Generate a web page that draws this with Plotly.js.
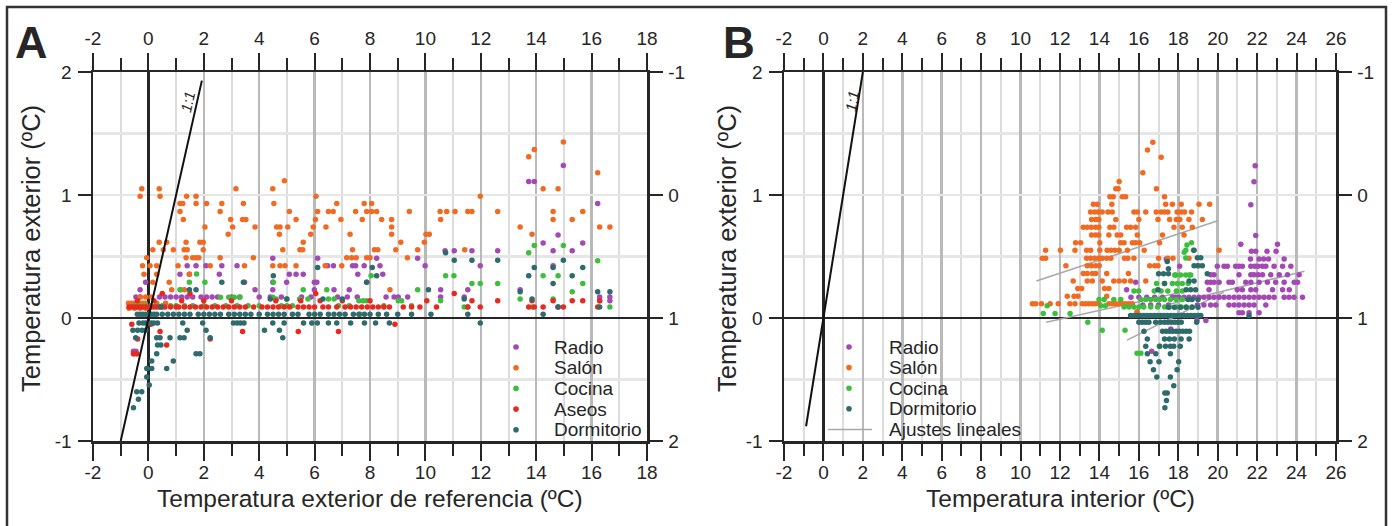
<!DOCTYPE html>
<html><head><meta charset="utf-8">
<script src="https://cdn.plot.ly/plotly-3.0.1.min.js"></script>
<style>html,body{margin:0;padding:0;background:#fff}</style>
</head><body><div id="chart" style="width:1394px;height:526px"></div>
<script>
// ---------- DATA ----------
const legendNamesA = ['Radio', 'Salón', 'Cocina', 'Aseos', 'Dormitorio'];
const legendNamesB = ['Radio', 'Salón', 'Cocina', 'Dormitorio'];
const fitLabel = 'Ajustes lineales';
const panelLabels = ['A', 'B'];
const xTitleA = 'Temperatura exterior de referencia (ºC)';
const xTitleB = 'Temperatura interior (ºC)';
const yTitle = 'Temperatura exterior (ºC)';
const oneToOneLabel = '1:1';
const xTicksA = [-2, 0, 2, 4, 6, 8, 10, 12, 14, 16, 18];
const xTicksB = [-2, 0, 2, 4, 6, 8, 10, 12, 14, 16, 18, 20, 22, 24, 26];
const yTicks = [-1, 0, 1, 2];
const rightTicks = [-1, 0, 1, 2];   // right axis runs top (-1) to bottom (2)

// rows: [y, [x values]]
const A_radio = [
  [1.24, [14.98]],
  [1.11, [13.73, 13.93]],
  [0.93, [16.22]],
  [0.675, [14.79]],
  [0.61, [14.25, 15.68]],
  [0.547, [10.71, 11.04, 11.68, 12.61, 14.61, 15.3]],
  [0.485, [4.49, 6.11, 8.24, 9.72]],
  [0.425, [1.4, 1.72, 2.08, 2.65, 3.2, 6.47, 6.68, 7.37, 7.48, 7.79, 8.36, 9.99, 11.98, 14.61]],
  [0.355, [1.14, 1.48, 2.56, 5.09, 5.33, 5.59, 7.56, 8.46]],
  [0.29, [-0.1, 3.47, 4.49, 4.99, 5.99, 6.08, 7.88]],
  [0.23, [-0.3, 3.85, 4.49, 5.99, 6.7, 7.25, 10.55, 11.53, 13.42]],
  [0.17, [-0.45, -0.3, 0.4, 0.6, 0.8, 1.0, 1.2, 1.4, 1.6, 1.9, 2.1, 2.3, 2.5, 3.0, 3.3, 4.0, 4.4, 4.8, 5.53, 5.87, 6.83, 7.18, 7.54, 8.58, 8.87, 9.02, 9.36, 10.55, 11.4, 16.29, 16.66]],
  [0.14, [16.29, 16.66]],
  [-0.27, [-0.54, -0.45]]
];
const A_salon = [
  [1.43, [14.98]],
  [1.37, [13.93]],
  [1.31, [13.73]],
  [1.18, [16.22]],
  [1.115, [4.91]],
  [1.05, [-0.24, 0.39, 3.16, 4.49, 14.25, 14.79]],
  [0.99, [-0.3, 0.42, 1.38, 1.72, 6.05, 11.98]],
  [0.93, [1.14, 1.24, 1.72, 2.1, 2.65, 3.43, 4.53, 6.8, 7.79, 8.06]],
  [0.865, [1.14, 2.59, 5.09, 6.11, 6.5, 6.67, 7.48, 7.88, 8.06, 8.24, 9.42, 10.53, 10.77, 11.07, 11.53, 11.68, 12.61, 14.61, 15.68]],
  [0.80, [1.26, 2.97, 3.4, 3.52, 5.33, 6.03, 6.95, 7.72, 8.42, 8.78, 10.55, 14.61, 15.3]],
  [0.74, [2.04, 3.04, 3.85, 4.63, 4.75, 5.03, 5.95, 6.41, 8.78, 13.42, 16.29, 16.66]],
  [0.68, [2.88, 4.73, 5.86, 7.28, 8.78, 10.02, 10.14, 13.85]],
  [0.615, [0.39, 0.66, 1.36, 1.86, 1.98, 5.59, 9.11, 9.96]],
  [0.555, [0.16, 0.54, 0.9, 1.29, 1.4, 1.98, 4.85, 5.47, 5.57, 7.37, 8.16, 8.28, 8.93, 9.72, 11.42]],
  [0.49, [-0.06, 1.36, 1.6, 1.72, 1.82, 2.59, 3.79, 7.16, 7.34, 7.5, 7.88, 8.0, 9.35]],
  [0.425, [-0.21, 0.06, 0.3, 1.07, 2.23, 3.47, 4.49, 4.75, 4.93, 5.33, 6.38, 6.98]],
  [0.355, [-0.16, 0.3, 1.48]],
  [0.29, [0.16, 0.75]],
  [0.23, [0.84, 1.17, 1.3, 8.72]],
  [0.17, [-0.3, -0.1, 0.1]],
  [0.12, [-0.72, -0.62, -0.52, -0.42, -0.32, -0.22, -0.12, 0.3, 0.62]],
  [0.08, [-0.7, -0.5, -0.3, -0.1]],
  [-0.29, [-0.52, -0.42]]
];
const A_cocina = [
  [0.59, [13.93, 14.98]],
  [0.53, [13.73]],
  [0.466, [16.22]],
  [0.357, [1.74]],
  [0.344, [8.04, 10.73, 11.03, 14.25, 14.79]],
  [0.29, [1.48, 2.04, 4.51]],
  [0.28, [11.68, 11.98, 12.61, 15.68]],
  [0.23, [1.14, 5.59, 6.44, 9.72]],
  [0.214, [15.3]],
  [0.168, [2.6, 2.9, 3.1, 3.3, 4.49]],
  [0.154, [4.61, 4.99, 5.46, 5.76, 6.5, 6.7, 13.42, 14.61]],
  [0.14, [7.6, 7.75, 7.88, 9.02, 9.14, 10.55]],
  [0.1, [-0.5, -0.3, -0.1, 0.1, 0.3, 0.5, 0.8, 1.0, 1.3, 1.6, 2.0, 2.4, 2.8, 3.2, 3.6, 4.0, 4.8, 5.0, 5.2, 6.86, 7.25, 8.5, 9.5]],
  [0.09, [11.4, 11.53, 13.85, 16.66]],
  [0.03, [7.64]]
];
const A_aseos = [
  [0.2, [0.5, 1.5, 6.04, 11.04]],
  [0.14, [-0.4, 0.2, 1.2, 2.0, 3.0, 4.6, 5.5, 6.2, 7.0, 8.0, 10.05, 11.68, 12.61, 13.85, 14.61, 15.3, 15.68, 16.29]],
  [0.09, [-0.7, -0.6, -0.5, -0.4, -0.3, -0.2, -0.1, 0.0, 0.1, 0.2, 0.3, 0.4, 0.5, 0.6, 0.8, 1.0, 1.1, 1.3, 1.5, 1.7, 1.9, 2.1, 2.3, 2.5, 2.7, 2.9, 3.1, 3.3, 3.5, 3.8, 4.1, 4.3, 4.5, 4.7, 4.9, 5.1, 5.4, 5.6, 5.8, 6.0, 6.3, 6.5, 6.8, 7.1, 7.3, 7.5, 7.7, 7.9, 8.1, 8.3, 8.5, 8.7, 9.2, 9.5, 9.8, 10.4, 11.53, 11.98, 13.73, 13.93, 14.25, 14.79, 14.98, 16.22]],
  [-0.05, [-0.6, 0.1, 8.9]],
  [-0.11, [0.42, 3.4, 5.41, 6.86]],
  [-0.17, [-0.39, 2.23]],
  [-0.22, [0.66]],
  [-0.29, [-0.54, -0.42]]
];
const A_dormitorio = [
  [0.53, [10.73]],
  [0.47, [11.04, 11.68, 12.61, 14.98]],
  [0.41, [6.11, 8.08, 13.93, 14.61, 15.68]],
  [0.344, [4.51, 8.24, 13.73, 15.3]],
  [0.29, [2.65, 3.43, 7.88]],
  [0.28, [14.61]],
  [0.23, [1.48, 1.72, 10.11]],
  [0.214, [13.42, 16.22, 16.66]],
  [0.154, [4.4, 5.0, 6.3, 7.0, 11.4, 13.85]],
  [0.09, [0.45, 14.79, 16.29]],
  [0.03, [-0.4, -0.3, -0.2, -0.1, 0, 0.1, 0.2, 0.3, 0.5, 0.7, 0.9, 1.1, 1.3, 1.5, 1.8, 2.0, 2.2, 2.4, 2.6, 2.9, 3.1, 3.3, 3.5, 3.7, 4.0, 4.3, 4.5, 4.7, 4.9, 5.2, 5.4, 5.8, 6.0, 6.2, 6.5, 6.7, 6.9, 7.1, 7.4, 7.6, 7.8, 8.0, 8.3, 8.6, 9.0, 9.5, 10.2, 11.53, 14.25]],
  [-0.04, [-0.34, -0.2, -0.1, 0.1, 0.2, 0.33, 1.24, 1.96, 3.07, 3.2, 3.32, 3.45, 4.49, 4.9, 5.6, 5.9, 6.1, 6.5, 6.8, 7.3, 7.8, 8.2, 8.7, 11.98]],
  [-0.1, [-0.56, -0.39, -0.23, -0.1, 1.4, 2.08, 4.19, 4.73]],
  [-0.16, [-0.46, 0.3, 0.42, 0.78, 1.14, 1.29, 2.23, 4.85]],
  [-0.22, [0.33, 0.45]],
  [-0.29, [0.3, 1.72, 1.86]],
  [-0.35, [0.12, 0.9]],
  [-0.41, [-0.06, 0.12, 0.66]],
  [-0.48, [-0.06]],
  [-0.545, [0.03]],
  [-0.6, [-0.42, -0.24]],
  [-0.66, [-0.36]],
  [-0.73, [-0.54]]
];

const B_radio = [
  [1.238, [21.9]],
  [1.108, [21.84]],
  [0.92, [21.68]],
  [0.67, [21.93]],
  [0.6, [21.17, 23.03]],
  [0.542, [21.71, 21.93, 22.5, 22.96]],
  [0.48, [17.39, 21.66, 22.1, 22.33, 22.58, 23.37]],
  [0.42, [18.07, 19.98, 20.32, 20.49, 20.91, 21.08, 21.25, 21.68, 21.88, 22.05, 22.27, 22.44, 22.86, 23.29, 23.71]],
  [0.352, [19.64, 19.81, 21.08, 21.68, 21.84, 22.05, 22.27, 22.69, 23.12, 23.54, 24.13]],
  [0.29, [15.84, 19.47, 19.64, 19.81, 20.07, 20.57, 20.74, 21.42, 21.68, 22.1, 22.52, 22.94, 23.37, 23.88, 24.05]],
  [0.23, [15.38, 19.56, 20.99, 21.25, 21.68, 21.93, 22.78, 23.29, 23.63]],
  [0.168, [15.6, 16.0, 16.4, 16.8, 17.2, 17.7, 17.87, 18.04, 18.29, 18.54, 18.8, 19.05, 19.3, 19.56, 19.81, 20.07, 20.32, 20.57, 20.83, 21.08, 21.34, 21.59, 21.84, 22.1, 22.35, 22.6, 22.86, 23.37, 23.62, 23.87, 24.3]],
  [0.105, [16.2, 16.6, 17.0, 17.5, 18.97, 19.3, 19.64, 19.9, 20.57, 20.83, 21.08, 21.34, 21.59, 21.84, 22.44]],
  [0.042, [21.08, 21.25, 21.59, 22.1]],
  [-0.02, [18.95, 19.4]],
  [-0.09, [17.62]],
  [-0.27, [16.65]]
];
const B_salon = [
  [1.428, [16.71]],
  [1.366, [16.44]],
  [1.306, [17.13]],
  [1.18, [16.2]],
  [1.11, [15.0]],
  [1.05, [14.83, 14.95, 16.89]],
  [0.986, [14.53, 14.7, 15.16, 15.33, 17.3]],
  [0.924, [13.69, 13.89, 14.63, 17.36, 17.7, 18.15, 19.05, 19.59]],
  [0.862, [13.55, 13.76, 13.93, 14.14, 14.43, 14.65, 15.75, 15.92, 16.35, 16.88, 17.13, 17.3, 17.47, 17.94, 18.15, 18.32, 18.67]],
  [0.8, [13.6, 13.81, 13.97, 14.83, 16.0, 16.97, 17.56, 17.9, 18.08, 18.54, 19.22]],
  [0.737, [13.18, 13.38, 13.59, 13.81, 13.97, 14.53, 14.73, 15.38, 15.58, 15.84, 17.78, 18.2, 18.71]],
  [0.675, [13.6, 13.81, 13.97, 14.48, 14.9, 15.08, 15.92, 17.2, 18.29]],
  [0.612, [12.79, 13.05, 14.02, 15.08, 15.25, 15.67, 15.84, 16.04, 17.05]],
  [0.55, [11.27, 12.02, 12.76, 13.35, 13.55, 14.02, 14.39, 14.58, 14.78, 15.0, 15.42, 16.27, 20.07]],
  [0.485, [11.1, 11.27, 13.35, 13.55, 13.76, 13.98, 14.14, 14.37, 14.58, 15.27, 15.44, 15.75, 17.0, 17.47, 17.73, 18.54]],
  [0.425, [12.3, 13.38, 13.59, 13.81, 13.99, 16.55, 16.8, 16.97, 19.05]],
  [0.362, [13.18, 13.38, 13.64, 13.81, 14.37, 15.47]],
  [0.3, [12.67, 13.38, 13.64, 14.14, 14.73, 15.0, 15.27, 15.58, 16.35]],
  [0.24, [12.9, 13.1, 14.26, 14.48]],
  [0.177, [12.37, 12.71, 12.91, 14.37]],
  [0.115, [10.6, 10.77, 11.06, 11.5, 11.91, 12.5, 12.76, 13.13, 13.3, 13.47, 13.64, 13.81, 13.98, 14.48, 14.65, 14.82, 14.99, 15.16, 15.33, 15.5, 15.67]],
  [0.05, [15.9]]
];
const B_cocina = [
  [0.612, [18.67]],
  [0.593, [18.44]],
  [0.55, [18.38, 18.77]],
  [0.535, [18.3]],
  [0.487, [18.38]],
  [0.35, [17.82, 17.87, 18.12, 18.38, 18.55, 18.63]],
  [0.28, [16.9, 17.3, 17.7, 17.95, 18.2, 18.5]],
  [0.22, [15.75, 15.99, 16.78, 17.13, 17.47, 17.9, 18.2]],
  [0.15, [13.98, 14.24, 14.73, 15.08, 16.1, 16.35, 16.6, 16.85, 17.05, 17.3, 17.6, 17.9, 18.2]],
  [0.1, [11.35, 14.07, 14.3]],
  [0.09, [15.25, 15.5, 15.75, 16.0, 16.25, 16.6, 16.95, 17.3, 17.55, 17.9, 18.15, 18.4, 18.7]],
  [0.037, [11.15, 11.75, 12.51]],
  [-0.035, [13.41]],
  [-0.1, [14.14, 15.3]],
  [-0.23, [17.04]],
  [-0.287, [15.91, 16.1]]
];
const B_dormitorio = [
  [0.55, [18.8]],
  [0.49, [18.97, 19.14]],
  [0.46, [17.44]],
  [0.425, [18.8, 18.97, 19.22]],
  [0.4, [17.5]],
  [0.36, [17.0, 17.25, 17.5, 19.47]],
  [0.3, [18.55, 18.8]],
  [0.28, [17.3]],
  [0.23, [16.97, 18.4, 18.63, 18.88]],
  [0.15, [18.5, 18.7, 19.0]],
  [0.087, [17.5, 17.8, 18.1, 18.4, 18.7, 19.0]],
  [0.02, [15.58, 15.75, 15.92, 16.09, 16.26, 16.43, 16.6, 16.77, 16.94, 17.11, 17.28, 17.45, 17.62, 17.79, 17.96, 18.13, 18.3, 18.47, 18.64, 18.81, 18.98, 19.14, 21.59]],
  [-0.035, [16.0, 16.17, 16.34, 16.51, 16.85, 17.1, 17.3, 17.47, 17.64, 17.81, 17.98, 18.15, 18.93]],
  [-0.108, [16.26, 17.2, 17.38, 17.55, 17.72, 17.89, 18.06, 18.23, 18.4, 18.57]],
  [-0.17, [16.43, 17.3, 17.55, 17.8, 18.14, 18.55]],
  [-0.23, [16.35, 17.06, 17.35, 17.6, 17.77, 18.1]],
  [-0.29, [16.43, 16.86, 17.6]],
  [-0.355, [16.57, 17.02, 18.02]],
  [-0.42, [16.74, 17.94]],
  [-0.48, [16.91, 17.6]],
  [-0.55, [17.77]],
  [-0.61, [17.32, 17.44]],
  [-0.67, [17.4]],
  [-0.73, [17.32]]
];

// linear fits (panel B): [x0, x1], [y0, y1]
const fitSalonX = [10.8, 20.0], fitSalonY = [0.30, 0.79];
const fitCocinaX = [11.3, 19.0], fitCocinaY = [-0.035, 0.24];
const fitDormX = [15.4, 20.3], fitDormY = [-0.18, 0.21];
const fitRadioX = [17.5, 24.4], fitRadioY = [0.11, 0.38];
// 1:1 reference lines
const oneA_x = [-1, 1.93], oneA_y = [-1, 1.93];
const oneB_x = [-0.88, 2.0], oneB_y = [-0.88, 2.0];

// ---------- STYLE ----------
const COL = {radio: '#a448b6', salon: '#f26a21', cocina: '#3cbf3c', aseos: '#e8291f', dorm: '#2e6b6c'};
const W = 1394, H = 526;
const FONT = 'Liberation Sans, Arial, sans-serif';
const INK = '#262626';

function flat(rows) {
  const x = [], y = [];
  rows.forEach(r => r[1].forEach(v => { x.push(v); y.push(r[0]); }));
  return {x, y};
}
function pts(rows, color, name, xa, ya) {
  const d = flat(rows);
  return {type: 'scatter', mode: 'markers', x: d.x, y: d.y, name, xaxis: xa, yaxis: ya,
    marker: {size: 5.5, color, line: {width: 0}}, showlegend: false, hoverinfo: 'skip'};
}
function line(x, y, xa, ya, color, width) {
  return {type: 'scatter', mode: 'lines', x, y, xaxis: xa, yaxis: ya,
    line: {color, width}, showlegend: false, hoverinfo: 'skip'};
}

const traces = [
  pts(A_radio, COL.radio, legendNamesA[0], 'x', 'y'),
  pts(A_salon, COL.salon, legendNamesA[1], 'x', 'y'),
  pts(A_cocina, COL.cocina, legendNamesA[2], 'x', 'y'),
  pts(A_aseos, COL.aseos, legendNamesA[3], 'x', 'y'),
  pts(A_dormitorio, COL.dorm, legendNamesA[4], 'x', 'y'),
  line(oneA_x, oneA_y, 'x', 'y', '#111', 2),
  line(fitSalonX, fitSalonY, 'x3', 'y3', '#a9a9a9', 1.6),
  line(fitCocinaX, fitCocinaY, 'x3', 'y3', '#a9a9a9', 1.6),
  line(fitDormX, fitDormY, 'x3', 'y3', '#a9a9a9', 1.6),
  line(fitRadioX, fitRadioY, 'x3', 'y3', '#a9a9a9', 1.6),
  pts(B_radio, COL.radio, legendNamesB[0], 'x3', 'y3'),
  pts(B_salon, COL.salon, legendNamesB[1], 'x3', 'y3'),
  pts(B_cocina, COL.cocina, legendNamesB[2], 'x3', 'y3'),
  pts(B_dormitorio, COL.dorm, legendNamesB[3], 'x3', 'y3'),
  line(oneB_x, oneB_y, 'x3', 'y3', '#111', 2),
  // empty traces so the mirror axes exist
  {type: 'scatter', x: [], y: [], xaxis: 'x2', yaxis: 'y2', showlegend: false},
  {type: 'scatter', x: [], y: [], xaxis: 'x4', yaxis: 'y4', showlegend: false}
];

const yDom = [(H - 441) / H, (H - 72) / H];
const domA = [93 / W, 647 / W], domB = [784 / W, 1336 / W];

function xAx(range, dom, anchor, tv, extra) {
  return Object.assign({
    domain: dom, range, anchor, tickmode: 'array', tickvals: tv, ticktext: tv.map(String),
    ticks: 'outside', ticklen: 17, tickwidth: 2,
    tickcolor: INK, showline: true, linewidth: 2.5, linecolor: INK,
    showgrid: true, gridcolor: '#b9b9b9', gridwidth: 2.5,
    zeroline: true, zerolinecolor: INK, zerolinewidth: 2.5,
    minor: {tickmode: 'linear', tick0: 0, dtick: 1, ticks: 'outside', ticklen: 12, tickwidth: 2, tickcolor: INK, showgrid: true, gridcolor: '#dcdcdc', gridwidth: 2},
    tickfont: {family: FONT, size: 19, color: INK}, ticklabelstandoff: -4, fixedrange: true, automargin: false
  }, extra || {});
}
function yAx(range, anchor, tv, extra) {
  return Object.assign({
    domain: yDom, range, anchor, tickmode: 'array', tickvals: tv, ticktext: tv.map(String),
    ticks: 'outside', ticklen: 13, tickwidth: 2,
    tickcolor: INK, showline: true, linewidth: 2.5, linecolor: INK,
    showgrid: true, gridcolor: '#e6e6e6', gridwidth: 2.5,
    zeroline: true, zerolinecolor: INK, zerolinewidth: 2.5,
    minor: {tickmode: 'linear', tick0: 0, dtick: 0.5, showgrid: true, gridcolor: '#e6e6e6', gridwidth: 2.5},
    tickfont: {family: FONT, size: 19, color: INK}, ticklabelstandoff: 2, fixedrange: true, automargin: false
  }, extra || {});
}
const mirrorY = {side: 'right', showgrid: false, zeroline: false, minor: {showgrid: false}};
const mirrorX = {side: 'top', showgrid: false, zeroline: false, ticklabelstandoff: 0,
  minor: {tickmode: 'linear', tick0: 0, dtick: 1, ticks: 'outside', ticklen: 12, tickwidth: 2, tickcolor: INK, showgrid: false}};

const annotations = [];
const shapes = [];
function ann(px, py, text, size, opts) {
  annotations.push(Object.assign({xref: 'paper', yref: 'paper', x: px / W, y: 1 - py / H, text,
    showarrow: false, font: {family: FONT, size, color: INK}, xanchor: 'center', yanchor: 'middle'}, opts || {}));
}
// panel letters
ann(31, 42, '<b>' + panelLabels[0] + '</b>', 45);
ann(739, 42, '<b>' + panelLabels[1] + '</b>', 44);
// axis titles
ann(370, 498, xTitleA, 24.5);
ann(1060, 498, xTitleB, 24.5);
ann(31, 249, yTitle, 25.5, {textangle: -90});
ann(727, 249, yTitle, 25.5, {textangle: -90});
// 1:1 labels (data coords)
annotations.push({xref: 'x', yref: 'y', x: 1.42, y: 1.76, text: '<i>' + oneToOneLabel + '</i>', showarrow: false,
  textangle: -77, font: {family: FONT, size: 15, color: INK}});
annotations.push({xref: 'x3', yref: 'y3', x: 1.45, y: 1.76, text: '<i>' + oneToOneLabel + '</i>', showarrow: false,
  textangle: -81, font: {family: FONT, size: 15, color: INK}});

// custom legends
const legColsA = [COL.radio, COL.salon, COL.cocina, COL.aseos, COL.dorm];
const legColsB = [COL.radio, COL.salon, COL.cocina, COL.dorm];
function dot(cx, cy, color) {
  const r = 2.8;
  shapes.push({type: 'circle', xref: 'paper', yref: 'paper', x0: (cx - r) / W, x1: (cx + r) / W,
    y0: 1 - (cy + r) / H, y1: 1 - (cy - r) / H, fillcolor: color, line: {width: 0}});
}
legendNamesA.forEach((n, i) => {
  const cy = 347 + 20.7 * i;
  dot(516, cy, legColsA[i]);
  ann(552, cy, n, 19, {xanchor: 'left'});
});
legendNamesB.forEach((n, i) => {
  const cy = 347 + 20.6 * i;
  dot(849, cy, legColsB[i]);
  ann(887, cy, n, 19, {xanchor: 'left'});
});
shapes.push({type: 'line', xref: 'paper', yref: 'paper', x0: 828 / W, x1: 872 / W, y0: 1 - 429.5 / H, y1: 1 - 429.5 / H,
  line: {color: '#a9a9a9', width: 1.6}});
ann(887, 429.5, fitLabel, 19, {xanchor: 'left'});
// outer frame
shapes.push({type: 'path', xref: 'paper', yref: 'paper',
  path: `M ${7 / W} -0.05 L ${7 / W} ${1 - 7 / H} L ${1386 / W} ${1 - 7 / H} L ${1386 / W} -0.05`,
  line: {color: '#333', width: 2.5}});

const layout = {
  width: W, height: H, margin: {l: 0, r: 0, t: 0, b: 0},
  paper_bgcolor: '#fff', plot_bgcolor: '#fff', showlegend: false,
  font: {family: FONT, color: INK},
  xaxis: xAx([-2, 18], domA, 'y', xTicksA),
  xaxis2: xAx([-2, 18], domA, 'y', xTicksA, Object.assign({overlaying: 'x'}, mirrorX)),
  yaxis: yAx([-1, 2], 'x', yTicks),
  yaxis2: yAx([2, -1], 'x', rightTicks, Object.assign({overlaying: 'y'}, mirrorY)),
  xaxis3: xAx([-2, 26], domB, 'y3', xTicksB),
  xaxis4: xAx([-2, 26], domB, 'y3', xTicksB, Object.assign({overlaying: 'x3'}, mirrorX)),
  yaxis3: yAx([-1, 2], 'x3', yTicks),
  yaxis4: yAx([2, -1], 'x3', rightTicks, Object.assign({overlaying: 'y3'}, mirrorY)),
  annotations, shapes
};
Plotly.newPlot('chart', traces, layout, {staticPlot: true, displayModeBar: false});
</script></body></html>
